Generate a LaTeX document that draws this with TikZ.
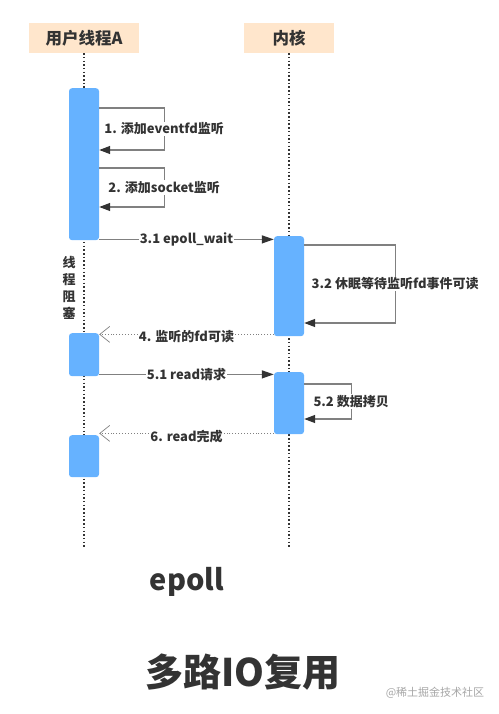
\documentclass[tikz,border=0pt]{standalone}
\usepackage{fontspec}
\setmainfont{Noto Sans CJK SC}
\usepackage{xcolor}
\usepackage{tikz}
\usetikzlibrary{arrows.meta,positioning}
\definecolor{headfill}{RGB}{255,230,204}
\definecolor{actblue}{RGB}{102,178,255}
\definecolor{linegray}{RGB}{128,128,128}
\definecolor{txtdark}{RGB}{51,51,51}

\begin{document}
\begin{tikzpicture}[x=1pt, y=-1pt,
    head/.style={fill=headfill, minimum height=30pt, inner sep=0pt, text=txtdark, font=\bfseries\fontsize{16.5}{18}\selectfont},
    act/.style={fill=actblue, rounded corners=3pt, minimum width=30pt, inner sep=0pt, anchor=north},
    life/.style={txtdark, line width=1.5pt, dash pattern=on 1.5pt off 2.2pt},
    msg/.style={linegray, line width=1.3pt, -{Triangle[length=12pt,width=8pt,color=txtdark,fill=txtdark]}},
    ret/.style={linegray, line width=0.9pt, dotted, -{Straight Barb[length=10pt,width=16pt,line width=0.7pt]}},
    selfloop/.style={linegray, line width=1.3pt, -{Triangle[length=11pt,width=8pt,color=txtdark,fill=txtdark]}},
    lbl/.style={fill=white, inner sep=1pt, text=txtdark, font=\bfseries\fontsize{13}{15}\selectfont}]
    \useasboundingbox (0,0) rectangle (498,714);

    % Headers
    \node[head, minimum width=110pt] (user) at (84,38) {用户线程A};
    \node[head, minimum width=90pt] (kernel) at (289,38) {内核};

    % Lifelines
    \coordinate (userend) at (84,548);
    \coordinate (kernelend) at (289,548);
    \draw[life] (user.south) -- (userend);
    \draw[life] (kernel.south) -- (kernelend);

    % Activations
    \node[act, minimum height=152pt] (a1) at (84,88) {};
    \node[act, minimum height=43pt] (a2) at (84,333) {};
    \node[act, minimum height=42pt] (a3) at (84,435) {};
    \node[act, minimum height=100pt] (k1) at (289,236) {};
    \node[act, minimum height=62pt] (k2) at (289,372) {};

    % Self calls
    \draw[selfloop] ([yshift=-20pt]a1.north east) -- ++(65,0) -- ++(0,42)
      node[midway, lbl] {1. 添加eventfd监听} -- ([yshift=-62pt]a1.north east);
    \draw[selfloop] ([yshift=-80pt]a1.north east) -- ++(65,0) -- ++(0,39)
      node[midway, lbl] {2. 添加socket监听} -- ([yshift=-119pt]a1.north east);
    \draw[selfloop] ([yshift=-9pt]k1.north east) -- ++(91,0) -- ++(0,78)
      node[midway, lbl] {3.2 休眠等待监听fd事件可读} -- ([yshift=-87pt]k1.north east);
    \draw[selfloop] ([yshift=-12pt]k2.north east) -- ++(47,0) -- ++(0,35)
      node[midway, lbl] {5.2 数据拷贝} -- ([yshift=-47pt]k2.north east);

    % Messages
    \coordinate (m31) at ([yshift=1pt]a1.south east);
    \coordinate (m4) at ([yshift=2pt]k1.south west);
    \coordinate (m51) at ([yshift=2pt]a2.south east);
    \coordinate (m6) at ([yshift=1pt]k2.south west);
    \draw[msg] (m31) -- node[lbl] {3.1 epoll\_wait} (k1.west |- m31);
    \draw[ret] (m4) -- node[lbl, yshift=-2pt] {4. 监听的fd可读} (a2.east |- m4);
    \draw[msg] (m51) -- node[lbl] {5.1 read请求} (k2.west |- m51);
    \draw[ret] (m6) -- node[lbl, yshift=-3pt] {6. read完成} (a3.east |- m6);

    % Blocked
    \node[align=center, text=txtdark, font=\bfseries\fontsize{13}{17}\selectfont] (blocked) at (69,288) {线\\程\\阻\\塞};

    % Titles
    \node[text=txtdark, font=\bfseries\fontsize{29}{32}\selectfont] (title) at (187,582) {epoll};
    \node[text=txtdark, font=\bfseries\fontsize{38}{42}\selectfont] (subtitle) at (243,672) {多路IO复用};
    \node[text=black!35, font=\fontsize{11}{13}\selectfont] (mark) at (435,693) {@稀土掘金技术社区};
\end{tikzpicture}
\end{document}
